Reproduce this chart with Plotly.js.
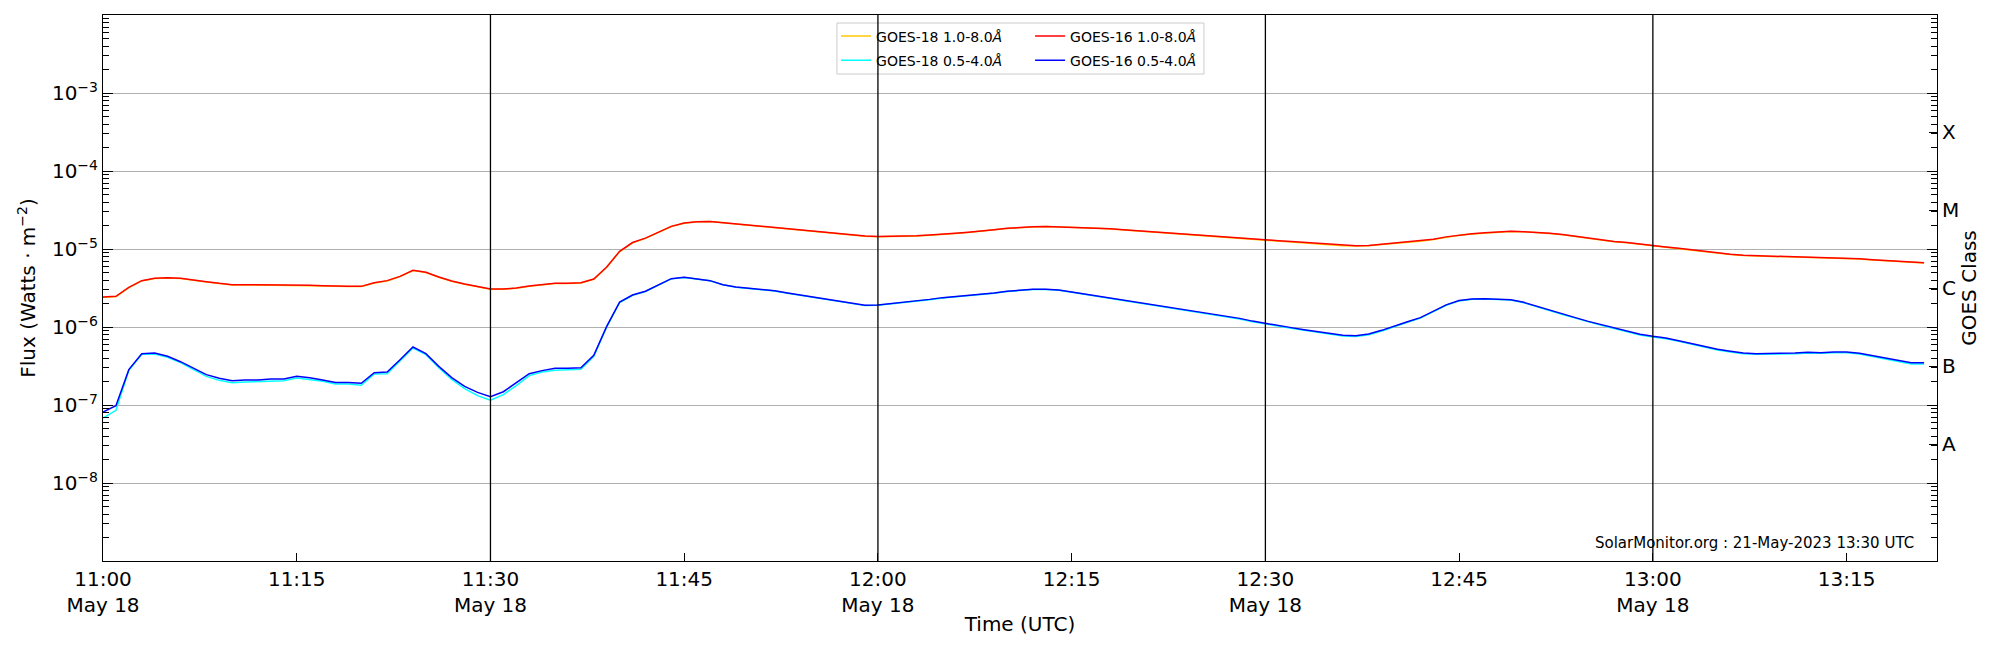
<!DOCTYPE html>
<html>
<head>
<meta charset="utf-8">
<script src="https://cdn.plot.ly/plotly-3.0.1.min.js"></script>
<style>
  body { margin: 0; background: #fff; }
  #myDiv { width: 2000px; height: 650px; }
</style>
</head>
<body>
<div id="myDiv"></div>
<script>
// GOES X-ray flux, 1 minute cadence starting 2023-05-18 11:00 UTC
var startHour = 11;
var day = '2023-05-18';

// GOES-16 1.0-8.0 A (long channel)
var goes16Long = [
  2.42e-6, 2.47e-6, 3.23e-6, 3.93e-6, 4.21e-6, 4.29e-6, 4.21e-6, 4.04e-6, 3.81e-6, 3.63e-6,
  3.49e-6, 3.49e-6, 3.49e-6, 3.49e-6, 3.45e-6, 3.45e-6, 3.42e-6, 3.39e-6, 3.32e-6, 3.32e-6,
  3.32e-6, 3.70e-6, 3.93e-6, 4.46e-6, 5.33e-6, 5.02e-6, 4.38e-6, 3.89e-6, 3.56e-6, 3.29e-6,
  3.07e-6, 3.07e-6, 3.16e-6, 3.35e-6, 3.52e-6, 3.63e-6, 3.63e-6, 3.70e-6, 4.12e-6, 5.88e-6,
  9.33e-6, 1.21e-5, 1.38e-5, 1.65e-5, 1.95e-5, 2.15e-5, 2.24e-5, 2.26e-5, 2.18e-5, 2.09e-5,
  2.03e-5, 1.97e-5, 1.91e-5, 1.84e-5, 1.77e-5, 1.70e-5, 1.64e-5, 1.57e-5, 1.51e-5, 1.47e-5,
  1.45e-5, 1.45e-5, 1.47e-5, 1.48e-5, 1.51e-5, 1.54e-5, 1.59e-5, 1.64e-5, 1.69e-5, 1.77e-5,
  1.84e-5, 1.90e-5, 1.93e-5, 1.95e-5, 1.93e-5, 1.91e-5, 1.90e-5, 1.86e-5, 1.82e-5, 1.77e-5,
  1.72e-5, 1.67e-5, 1.64e-5, 1.59e-5, 1.56e-5, 1.51e-5, 1.47e-5, 1.43e-5, 1.38e-5, 1.34e-5,
  1.30e-5, 1.28e-5, 1.25e-5, 1.22e-5, 1.18e-5, 1.14e-5, 1.11e-5, 1.10e-5, 1.11e-5, 1.15e-5,
  1.18e-5, 1.22e-5, 1.27e-5, 1.33e-5, 1.43e-5, 1.51e-5, 1.57e-5, 1.62e-5, 1.67e-5, 1.69e-5,
  1.67e-5, 1.64e-5, 1.59e-5, 1.53e-5, 1.45e-5, 1.38e-5, 1.32e-5, 1.25e-5, 1.21e-5, 1.15e-5,
  1.10e-5, 1.06e-5, 1.02e-5, 9.71e-6, 9.24e-6, 8.89e-6, 8.54e-6, 8.29e-6, 8.21e-6, 8.13e-6,
  8.05e-6, 7.97e-6, 7.90e-6, 7.82e-6, 7.82e-6, 7.74e-6, 7.52e-6, 7.30e-6, 7.08e-6, 6.95e-6,
  6.81e-6, 6.68e-6
];

// GOES-16 0.5-4.0 A (short channel)
var goes16Short = [
  8.13e-8, 9.80e-8, 2.84e-7, 4.55e-7, 4.64e-7, 4.21e-7, 3.59e-7, 2.98e-7, 2.45e-7, 2.20e-7,
  2.05e-7, 2.09e-7, 2.09e-7, 2.15e-7, 2.15e-7, 2.33e-7, 2.24e-7, 2.09e-7, 1.95e-7, 1.95e-7,
  1.90e-7, 2.60e-7, 2.65e-7, 3.81e-7, 5.54e-7, 4.55e-7, 3.13e-7, 2.24e-7, 1.73e-7, 1.45e-7,
  1.28e-7, 1.48e-7, 1.91e-7, 2.52e-7, 2.76e-7, 2.95e-7, 2.95e-7, 3.01e-7, 4.33e-7, 1.02e-6,
  2.09e-6, 2.57e-6, 2.87e-6, 3.45e-6, 4.17e-6, 4.33e-6, 4.17e-6, 3.93e-6, 3.49e-6, 3.26e-6,
  3.13e-6, 3.04e-6, 2.92e-6, 2.73e-6, 2.57e-6, 2.42e-6, 2.26e-6, 2.11e-6, 2.01e-6, 1.90e-6,
  1.92e-6, 1.99e-6, 2.07e-6, 2.15e-6, 2.26e-6, 2.38e-6, 2.45e-6, 2.55e-6, 2.62e-6, 2.73e-6,
  2.87e-6, 2.98e-6, 3.04e-6, 3.04e-6, 2.98e-6, 2.81e-6, 2.65e-6, 2.47e-6, 2.33e-6, 2.20e-6,
  2.07e-6, 1.95e-6, 1.84e-6, 1.74e-6, 1.64e-6, 1.54e-6, 1.45e-6, 1.37e-6, 1.29e-6, 1.19e-6,
  1.11e-6, 1.04e-6, 9.82e-7, 9.24e-7, 8.71e-7, 8.21e-7, 7.82e-7, 7.74e-7, 8.13e-7, 9.06e-7,
  1.04e-6, 1.17e-6, 1.32e-6, 1.59e-6, 1.92e-6, 2.18e-6, 2.29e-6, 2.31e-6, 2.29e-6, 2.24e-6,
  2.07e-6, 1.86e-6, 1.65e-6, 1.47e-6, 1.32e-6, 1.18e-6, 1.07e-6, 9.71e-7, 8.80e-7, 8.05e-7,
  7.59e-7, 7.23e-7, 6.68e-7, 6.11e-7, 5.60e-7, 5.17e-7, 4.88e-7, 4.64e-7, 4.55e-7, 4.55e-7,
  4.55e-7, 4.64e-7, 4.73e-7, 4.69e-7, 4.78e-7, 4.78e-7, 4.60e-7, 4.29e-7, 3.97e-7, 3.66e-7,
  3.49e-7, 3.49e-7
];

// GOES-18 1.0-8.0 A
var goes18Long = [
  2.40e-6, 2.45e-6, 3.20e-6, 3.90e-6, 4.18e-6, 4.26e-6, 4.18e-6, 4.01e-6, 3.78e-6, 3.60e-6,
  3.46e-6, 3.46e-6, 3.46e-6, 3.46e-6, 3.42e-6, 3.42e-6, 3.39e-6, 3.36e-6, 3.30e-6, 3.30e-6,
  3.30e-6, 3.67e-6, 3.90e-6, 4.43e-6, 5.29e-6, 4.99e-6, 4.35e-6, 3.86e-6, 3.53e-6, 3.26e-6,
  3.05e-6, 3.05e-6, 3.14e-6, 3.33e-6, 3.50e-6, 3.60e-6, 3.60e-6, 3.67e-6, 4.09e-6, 5.84e-6,
  9.27e-6, 1.20e-5, 1.37e-5, 1.64e-5, 1.94e-5, 2.14e-5, 2.23e-5, 2.25e-5, 2.17e-5, 2.08e-5,
  2.02e-5, 1.96e-5, 1.90e-5, 1.83e-5, 1.76e-5, 1.69e-5, 1.63e-5, 1.56e-5, 1.50e-5, 1.46e-5,
  1.44e-5, 1.44e-5, 1.46e-5, 1.47e-5, 1.50e-5, 1.53e-5, 1.58e-5, 1.63e-5, 1.68e-5, 1.76e-5,
  1.83e-5, 1.89e-5, 1.92e-5, 1.94e-5, 1.92e-5, 1.90e-5, 1.89e-5, 1.85e-5, 1.81e-5, 1.76e-5,
  1.71e-5, 1.66e-5, 1.63e-5, 1.58e-5, 1.55e-5, 1.50e-5, 1.46e-5, 1.42e-5, 1.37e-5, 1.33e-5,
  1.29e-5, 1.27e-5, 1.24e-5, 1.21e-5, 1.17e-5, 1.13e-5, 1.10e-5, 1.09e-5, 1.10e-5, 1.14e-5,
  1.17e-5, 1.21e-5, 1.26e-5, 1.32e-5, 1.42e-5, 1.50e-5, 1.56e-5, 1.61e-5, 1.66e-5, 1.68e-5,
  1.66e-5, 1.63e-5, 1.58e-5, 1.52e-5, 1.44e-5, 1.37e-5, 1.31e-5, 1.24e-5, 1.20e-5, 1.14e-5,
  1.09e-5, 1.05e-5, 1.01e-5, 9.64e-6, 9.17e-6, 8.83e-6, 8.48e-6, 8.23e-6, 8.15e-6, 8.07e-6,
  7.99e-6, 7.91e-6, 7.84e-6, 7.76e-6, 7.76e-6, 7.68e-6, 7.46e-6, 7.24e-6, 7.03e-6, 6.90e-6,
  6.76e-6, 6.63e-6
];

// GOES-18 0.5-4.0 A
var goes18Short = [
  6.81e-8, 8.54e-8, 2.78e-7, 4.46e-7, 4.51e-7, 4.08e-7, 3.49e-7, 2.87e-7, 2.33e-7, 2.07e-7,
  1.93e-7, 1.97e-7, 1.99e-7, 2.05e-7, 2.05e-7, 2.22e-7, 2.13e-7, 2.01e-7, 1.86e-7, 1.86e-7,
  1.79e-7, 2.50e-7, 2.52e-7, 3.70e-7, 5.38e-7, 4.42e-7, 3.01e-7, 2.13e-7, 1.62e-7, 1.32e-7,
  1.15e-7, 1.36e-7, 1.77e-7, 2.38e-7, 2.65e-7, 2.78e-7, 2.81e-7, 2.87e-7, 4.21e-7, 1.00e-6,
  2.06e-6, 2.55e-6, 2.85e-6, 3.43e-6, 4.14e-6, 4.31e-6, 4.15e-6, 3.91e-6, 3.47e-6, 3.24e-6,
  3.11e-6, 3.02e-6, 2.90e-6, 2.71e-6, 2.55e-6, 2.40e-6, 2.24e-6, 2.09e-6, 1.99e-6, 1.88e-6,
  1.90e-6, 1.97e-6, 2.05e-6, 2.13e-6, 2.24e-6, 2.36e-6, 2.43e-6, 2.53e-6, 2.60e-6, 2.71e-6,
  2.85e-6, 2.96e-6, 3.02e-6, 3.02e-6, 2.96e-6, 2.79e-6, 2.63e-6, 2.45e-6, 2.31e-6, 2.18e-6,
  2.05e-6, 1.93e-6, 1.82e-6, 1.72e-6, 1.62e-6, 1.52e-6, 1.43e-6, 1.35e-6, 1.27e-6, 1.17e-6,
  1.09e-6, 1.02e-6, 9.65e-7, 9.08e-7, 8.55e-7, 8.05e-7, 7.66e-7, 7.58e-7, 7.97e-7, 8.90e-7,
  1.02e-6, 1.15e-6, 1.30e-6, 1.57e-6, 1.90e-6, 2.16e-6, 2.27e-6, 2.29e-6, 2.27e-6, 2.22e-6,
  2.05e-6, 1.84e-6, 1.63e-6, 1.45e-6, 1.30e-6, 1.16e-6, 1.05e-6, 9.55e-7, 8.64e-7, 7.90e-7,
  7.45e-7, 7.09e-7, 6.55e-7, 5.99e-7, 5.49e-7, 5.07e-7, 4.78e-7, 4.55e-7, 4.46e-7, 4.46e-7,
  4.46e-7, 4.55e-7, 4.64e-7, 4.60e-7, 4.69e-7, 4.69e-7, 4.51e-7, 4.17e-7, 3.85e-7, 3.56e-7,
  3.35e-7, 3.35e-7
];

// x axis ticks
var tickTimes = ['11:00', '11:15', '11:30', '11:45', '12:00', '12:15', '12:30', '12:45', '13:00', '13:15'];
var tickLabels = ['11:00<br>May 18', '11:15', '11:30<br>May 18', '11:45', '12:00<br>May 18',
                  '12:15', '12:30<br>May 18', '12:45', '13:00<br>May 18', '13:15'];
var halfHourLines = ['11:30', '12:00', '12:30', '13:00'];
var xStart = '11:00', xEnd = '13:22';

// y axis ticks (flux decades) and GOES class labels on the right
var fluxTicks = [1e-8, 1e-7, 1e-6, 1e-5, 1e-4, 1e-3];
var fluxLabels = ['10<sup>\u22128</sup>', '10<sup>\u22127</sup>', '10<sup>\u22126</sup>',
                  '10<sup>\u22125</sup>', '10<sup>\u22124</sup>', '10<sup>\u22123</sup>'];
var classTicks = [3.16e-8, 3.16e-7, 3.16e-6, 3.16e-5, 3.16e-4];
var classLabels = ['A', 'B', 'C', 'M', 'X'];

// build the time stamps, one per minute
var times = [];
for (let i = 0; i < goes16Long.length; i++) {
    let hh = startHour + Math.floor(i / 60);
    let mm = i % 60;
    times.push(day + ' ' + hh + ':' + (mm < 10 ? '0' + mm : mm));
}
function t(s) { return day + ' ' + s; }

var trace1 = {
    x: times, y: goes18Long, mode: 'lines', name: 'GOES-18 1.0-8.0<i>Å</i>',
    line: {color: '#ffc800', width: 1.5}, legend: 'legend', legendgroup: 'a'
};
var trace2 = {
    x: times, y: goes16Long, mode: 'lines', name: 'GOES-16 1.0-8.0<i>Å</i>',
    line: {color: '#ff0000', width: 1.5}, legend: 'legend2', legendgroup: 'b'
};
var trace3 = {
    x: times, y: goes18Short, mode: 'lines', name: 'GOES-18 0.5-4.0<i>Å</i>',
    line: {color: '#00ffff', width: 1.5}, legend: 'legend', legendgroup: 'c'
};
var trace4 = {
    x: times, y: goes16Short, mode: 'lines', name: 'GOES-16 0.5-4.0<i>Å</i>',
    line: {color: '#0000ff', width: 1.5}, legend: 'legend2', legendgroup: 'd'
};
// empty trace so the GOES class axis on the right gets drawn
var classAxis = {x: [times[0]], y: [null], yaxis: 'y2', mode: 'lines', showlegend: false, hoverinfo: 'skip'};
var data = [trace1, trace2, trace3, trace4, classAxis];

// legend frame + black vertical lines at the half hours
var shapes = [{
    type: 'rect', xref: 'paper', yref: 'paper',
    x0: 0.4002, x1: 0.6003, y0: 0.8919, y1: 0.9853,
    line: {color: '#cccccc', width: 1}, fillcolor: 'rgba(255,255,255,0.8)', layer: 'above'
}];
halfHourLines.forEach(function (h) {
    shapes.push({
        type: 'line', xref: 'x', yref: 'paper', x0: t(h), x1: t(h), y0: 0, y1: 1,
        line: {color: 'black', width: 1.3}, layer: 'above'
    });
});

var legendBase = {
    y: 0.99, xanchor: 'left', yanchor: 'top', bgcolor: 'rgba(0,0,0,0)', borderwidth: 0,
    font: {family: 'DejaVu Sans', size: 14, color: 'black'}, tracegroupgap: 3
};

var layout = {
    width: 2000, height: 650,
    margin: {l: 103, r: 63, t: 15, b: 89},
    paper_bgcolor: 'white', plot_bgcolor: 'white',
    font: {family: 'DejaVu Sans', color: 'black', size: 20},
    showlegend: true,
    legend: Object.assign({x: 0.3997}, legendBase),
    legend2: Object.assign({x: 0.5055}, legendBase),
    xaxis: {
        type: 'date', range: [t(xStart), t(xEnd)],
        tickmode: 'array', tickvals: tickTimes.map(t), ticktext: tickLabels,
        ticks: 'inside', ticklen: 8, tickcolor: 'black', tickwidth: 1,
        showline: true, linecolor: 'black', linewidth: 1, mirror: true,
        showgrid: false, zeroline: false, automargin: false,
        tickfont: {size: 20},
        title: {text: 'Time (UTC)', font: {size: 20}, standoff: 0}
    },
    yaxis: {
        type: 'log', range: [-9, -2],
        tickmode: 'array', tickvals: fluxTicks, ticktext: fluxLabels,
        ticks: 'inside', ticklen: 10, tickcolor: 'black', tickwidth: 1,
        showline: true, linecolor: 'black', linewidth: 1, mirror: 'allticks',
        showgrid: true, gridcolor: '#b0b0b0', gridwidth: 1, zeroline: false,
        minor: {ticks: 'inside', ticklen: 6, tickcolor: 'black', dtick: 'D1', showgrid: false},
        automargin: false, tickfont: {size: 20},
        title: {text: 'Flux (Watts \u00b7 m<sup>\u22122</sup>)', font: {size: 20}, standoff: 10}
    },
    yaxis2: {
        type: 'log', range: [-9, -2], overlaying: 'y', side: 'right',
        tickmode: 'array', tickvals: classTicks, ticktext: classLabels,
        ticks: 'inside', ticklen: 8, tickcolor: 'black', ticklabelstandoff: 4,
        showgrid: false, zeroline: false, showline: false, automargin: false,
        tickfont: {size: 20},
        title: {text: 'GOES Class', font: {size: 20}, standoff: 3}
    },
    shapes: shapes,
    annotations: [{
        xref: 'paper', yref: 'paper', x: 0.9885, y: 0.033, xanchor: 'right', yanchor: 'middle',
        text: 'SolarMonitor.org : 21-May-2023 13:30 UTC', showarrow: false,
        font: {size: 15, color: 'black'}
    }]
};

Plotly.newPlot('myDiv', data, layout, {displayModeBar: false, staticPlot: true});
</script>
</body>
</html>
